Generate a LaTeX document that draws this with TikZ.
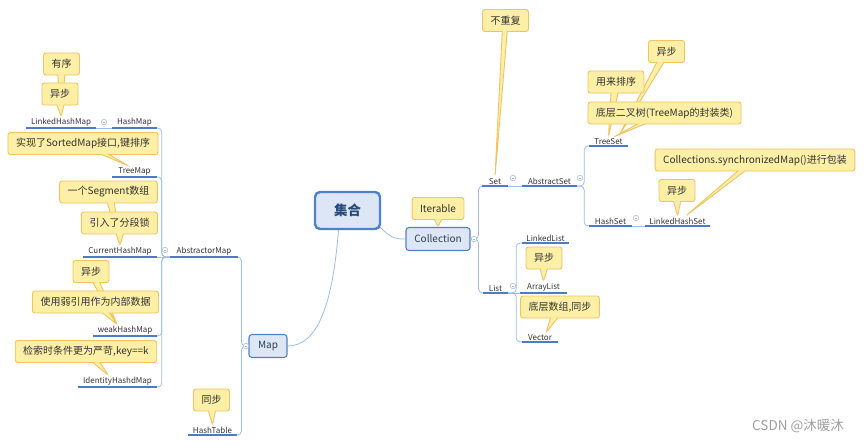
\documentclass[tikz,border=0pt]{standalone}
\usepackage{fontspec}
\setmainfont{Noto Sans CJK SC}
\usepackage{xcolor}
\usepackage{tikz}
\usetikzlibrary{shapes,shapes.callouts,arrows.meta,positioning,calc}

\definecolor{notefill}{HTML}{FDEFA6}
\definecolor{notedraw}{HTML}{F2C35E}
\definecolor{topicfill}{HTML}{DCE6F4}
\definecolor{topicdraw}{HTML}{4F81C8}
\definecolor{roottext}{HTML}{274A7C}
\definecolor{topictext}{HTML}{2F3F55}
\definecolor{branchcol}{HTML}{9DBDE7}
\definecolor{ulinecol}{HTML}{4A7DC5}
\definecolor{foldcol}{HTML}{A3B6D0}
\definecolor{leaftext}{HTML}{333333}
\definecolor{marktext}{HTML}{A0A0A0}

\begin{document}
\begin{tikzpicture}[x=1pt,y=-1pt,
    root/.style={draw=topicdraw,fill=topicfill,line width=2.4pt,rounded corners=5pt,minimum width=65pt,minimum height=37pt,font=\fontsize{13.5}{15}\selectfont\bfseries,text=roottext},
    topic/.style={draw=topicdraw,fill=topicfill,line width=1.1pt,rounded corners=3pt,minimum height=23pt,inner xsep=0pt,font=\fontsize{10}{12}\selectfont,text=topictext},
    leaf/.style={anchor=south,inner xsep=0pt,inner ysep=1.5pt,font=\fontsize{8}{9}\selectfont,text=leaftext},
    note/.style={rectangle callout,draw=notedraw,fill=notefill,line width=0.9pt,rounded corners=2.5pt,minimum height=22pt,inner xsep=8pt,callout pointer width=7pt,font=\fontsize{10}{12}\selectfont,text=leaftext},
    fold/.style={circle,draw=foldcol,fill=white,line width=0.5pt,minimum size=5.5pt,inner sep=0pt,
        path picture={\draw[foldcol,line width=0.5pt] ([xshift=1.3pt]path picture bounding box.west) -- ([xshift=-1.3pt]path picture bounding box.east);}},
    branch/.style={draw=branchcol,line width=0.8pt,rounded corners=4pt},
    uline/.style={draw=ulinecol,line width=1.4pt},
    watermark/.style={font=\fontsize{13.5}{15}\selectfont,text=marktext}
]
    \path[fill=white,use as bounding box] (0,0) rectangle (864,445);

    % Topics
    \node[root] (root) at (347.5,210.5) {集合};
    \node[topic,minimum width=64pt] (coll) at (438,239) {Collection};
    \node[topic,minimum width=38pt] (map) at (268,346) {Map};

    % Map side leaves
    \node[leaf,minimum width=70pt] (lhm) at (61,128) {LinkedHashMap};
    \node[leaf,minimum width=45pt] (hashmap) at (134.5,128) {HashMap};
    \node[leaf,minimum width=45pt] (treemap) at (134.5,177) {TreeMap};
    \node[leaf,minimum width=74pt] (chm) at (120,257) {CurrentHashMap};
    \node[leaf,minimum width=68pt] (absmap) at (204,257) {AbstractorMap};
    \node[leaf,minimum width=64pt] (weak) at (125,336) {weakHashMap};
    \node[leaf,minimum width=79pt] (ihm) at (117.5,387) {IdentityHashdMap};
    \node[leaf,minimum width=49pt] (table) at (212.5,435) {HashTable};

    % Collection side leaves
    \node[leaf,minimum width=26pt] (set) at (495,186) {Set};
    \node[leaf,minimum width=55pt] (absset) at (549.5,186) {AbstractSet};
    \node[leaf,minimum width=39pt] (treeset) at (608.5,146) {TreeSet};
    \node[leaf,minimum width=43pt] (hashset) at (610.5,226) {HashSet};
    \node[leaf,minimum width=65pt] (lhs) at (677.5,226) {LinkedHashSet};
    \node[leaf,minimum width=25pt] (list) at (495.5,293) {List};
    \node[leaf,minimum width=47pt] (llist) at (545.5,243) {LinkedList};
    \node[leaf,minimum width=47pt] (alist) at (543.5,293) {ArrayList};
    \node[leaf,minimum width=36pt] (vector) at (540,342) {Vector};

    % Links from the root
    \draw[branch] ([xshift=-1pt,yshift=3pt]root.south east) .. controls +(10,10) and +(-12,0) .. (coll.west);
    \draw[branch] ([xshift=-9pt]root.south) .. controls +(-6,75) and +(30,0) .. (map.east);

    % Map branches
    \draw[branch] (map.west) -- ++(-7,0) |- (absmap.south east);
    \draw[branch] (map.west) -- ++(-7,0) |- (table.south east);
    \foreach \c in {hashmap,treemap,weak,ihm}
        \draw[branch] (absmap.south west) -- ++(-8,0) |- (\c.south east);
    \draw[branch] (absmap.south west) -- (chm.south east);
    \draw[branch] (hashmap.south west) -- (lhm.south east);

    % Collection branches
    \draw[branch] (coll.east) -- ++(8,0) |- (set.south west);
    \draw[branch] (coll.east) -- ++(8,0) |- (list.south west);
    \draw[branch] (set.south east) -- (absset.south west);
    \draw[branch] (absset.south east) -- ++(7,0) |- (treeset.south west);
    \draw[branch] (absset.south east) -- ++(7,0) |- (hashset.south west);
    \draw[branch] (hashset.south east) -- (lhs.south west);
    \draw[branch] (list.south east) -- ++(8,0) |- (llist.south west);
    \draw[branch] (list.south east) -- ++(8,0) |- (vector.south west);
    \draw[branch] (list.south east) -- (alist.south west);

    % Underlines
    \foreach \n in {lhm,hashmap,treemap,chm,absmap,weak,ihm,table,set,absset,treeset,hashset,lhs,list,llist,alist,vector}
        \draw[uline] (\n.south west) -- (\n.south east);

    % Fold markers
    \node[fold] (hmfold) at (104,122) {};
    \node[fold] (amfold) at (165,250) {};
    \node[fold] (mapfold) at (246,346) {};
    \node[fold] (collfold) at (474,239) {};
    \node[fold] (setfold) at (513,178) {};
    \node[fold] (asfold) at (580,178) {};
    \node[fold] (listfold) at (513,286) {};
    \node[fold] (hsfold) at (636,218) {};

    % Notes on the Map side
    \node[note,callout absolute pointer={(lhm.north)}] (lhmord) at (61.5,64) {有序};
    \node[note,callout absolute pointer={(lhm.north)}] (lhmasync) at (60,94) {异步};
    \node[note,callout absolute pointer={([xshift=-6pt]treemap.north)}] (treemapnote) at (83,143.5) {实现了SortedMap接口,键排序};
    \node[note,callout absolute pointer={(chm.north)}] (chmseg) at (108.5,192) {一个Segment数组};
    \node[note,callout absolute pointer={(chm.north)}] (chmlock) at (119.5,223) {引入了分段锁};
    \node[note,callout absolute pointer={([xshift=-8pt]weak.north)}] (weakasync) at (91,271.5) {异步};
    \node[note,callout absolute pointer={([xshift=-8pt]weak.north)}] (weaknote) at (95.5,302) {使用弱引用作为内部数据};
    \node[note,callout absolute pointer={([xshift=-9pt]ihm.north)}] (ihmnote) at (86,351.5) {检索时条件更为严苛,key==k};
    \node[note,callout absolute pointer={(table.north)}] (tablenote) at (211.5,400) {同步};

    % Notes on the Collection side
    \node[note,callout absolute pointer={(coll.north)}] (iternote) at (438,208.5) {Iterable};
    \node[note,callout pointer width=5pt,callout absolute pointer={(set.north)}] (setnote) at (505.5,20.5) {不重复};
    \node[note,callout absolute pointer={([xshift=10pt]treeset.north)}] (tsasync) at (666.5,51.5) {异步};
    \node[note,callout absolute pointer={(treeset.north)}] (tssort) at (616,82) {用来排序};
    \node[note,callout absolute pointer={([xshift=6pt]treeset.north)}] (tstree) at (664.5,113) {底层二叉树(TreeMap的封装类)};
    \node[note,callout absolute pointer={([xshift=8pt]lhs.north)}] (lhswrap) at (755,160) {Collections.synchronizedMap()进行包装};
    \node[note,callout absolute pointer={(lhs.north)}] (lhsasync) at (677,190.5) {异步};
    \node[note,callout absolute pointer={(alist.north)}] (alistnote) at (544,258) {异步};
    \node[note,callout absolute pointer={([xshift=6pt]vector.north)}] (vectornote) at (560,307) {底层数组,同步};

    % Watermark
    \node[watermark] (csdn) at (798,426) {CSDN @沐暖沐};
\end{tikzpicture}
\end{document}
